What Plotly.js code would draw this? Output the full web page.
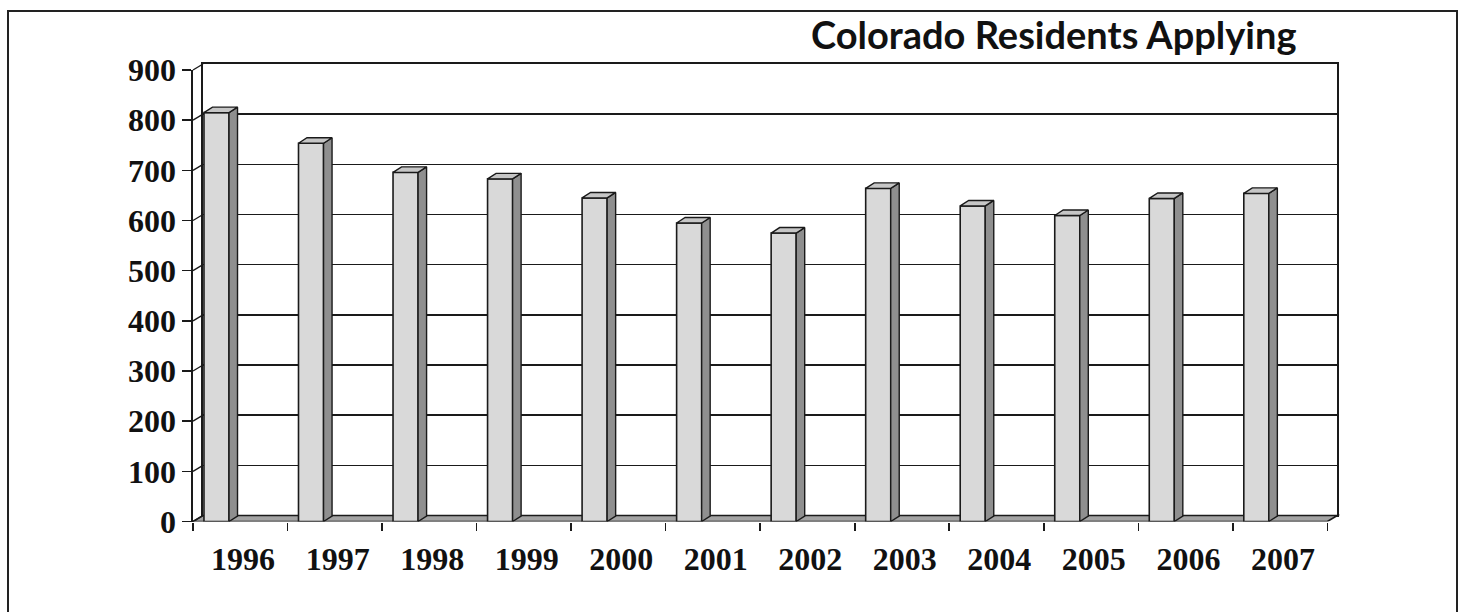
<!DOCTYPE html>
<html>
<head>
<meta charset="utf-8">
<script src="https://cdn.plot.ly/plotly-3.0.1.min.js"></script>
<style>html,body{margin:0;padding:0;background:#fff}</style>
</head>
<body>
<div id="chart" style="width:1464px;height:612px"></div>
<script>
// ---- data ----
const years = ['1996','1997','1998','1999','2000','2001','2002','2003','2004','2005','2006','2007'];
const applicants = [815, 754, 696, 683, 645, 595, 575, 664, 629, 610, 644, 654];
const yTickVals = [0,100,200,300,400,500,600,700,800,900];
const chartTitle = 'Colorado Residents Applying';

// ---- geometry (pixels) ----
const W = 1464, H = 612;
const fx = p => p / W;
const fy = p => 1 - p / H;
const catPx = 94.53;               // pixel width of one category
const frontLeft = 193, frontZero = 521.5, frontTop = 70;
const wallDx = 10, wallDy = 6;     // back wall offset in px
const barDx = 8.5, barDy = 5.5;    // bar depth in px
const xMax = 11.65;
const frontRight = frontLeft + (xMax + 0.5) * catPx;
const pxPerVal = (frontZero - frontTop) / 900;

const dxw = wallDx / catPx, dyw = wallDy / pxPerVal;
const dxb = barDx / catPx, dyb = barDy / pxPerVal;
const barOffset = -0.384, barWidth = 0.265;

const idx = years.map((_, i) => i);
const traces = [];

// invisible anchor trace for the back-wall subplot
traces.push({x:[0,1], y:[0,0], xaxis:'x', yaxis:'y', mode:'lines',
  line:{width:0, color:'rgba(0,0,0,0)'}, hoverinfo:'skip', showlegend:false});

// front faces of the columns
traces.push({type:'bar', x: idx, y: applicants, xaxis:'x2', yaxis:'y2',
  offset: barOffset, width: barWidth,
  marker:{color:'#d9d9d9', line:{color:'#1a1a1a', width:1.6}},
  hoverinfo:'skip', showlegend:false});

// side and top faces
applicants.forEach((v, i) => {
  const l = i + barOffset, r = l + barWidth;
  traces.push({x:[r, r+dxb, r+dxb, r, r], y:[0, dyb, v+dyb, v, 0],
    xaxis:'x2', yaxis:'y2', mode:'lines', fill:'toself', fillcolor:'#8f8f8f',
    line:{color:'#1a1a1a', width:1.4}, hoverinfo:'skip', showlegend:false});
  traces.push({x:[l, l+dxb, r+dxb, r, l], y:[v, v+dyb, v+dyb, v, v],
    xaxis:'x2', yaxis:'y2', mode:'lines', fill:'toself', fillcolor:'#c6c6c6',
    line:{color:'#1a1a1a', width:1.4}, hoverinfo:'skip', showlegend:false});
});

const shapes = [];
// floor of the 3D box
shapes.push({type:'path', xref:'x2', yref:'y2', layer:'below',
  path:`M -0.5 0 L 11.5 0 L ${11.5+dxw} ${dyw} L ${-0.5+dxw} ${dyw} Z`,
  fillcolor:'#a3a3a3', line:{color:'#1a1a1a', width:1.6}});
// side-wall connectors at each tick
yTickVals.forEach(v => {
  const y0 = frontZero - v * pxPerVal;
  shapes.push({type:'line', xref:'paper', yref:'paper',
    x0: fx(frontLeft), y0: fy(y0), x1: fx(frontLeft + wallDx), y1: fy(y0 - wallDy),
    line:{color:'#1a1a1a', width:1.4}});
});
// outer frame
shapes.push({type:'rect', xref:'paper', yref:'paper',
  x0: fx(8), y0: -0.05, x1: fx(1457), y1: fy(11),
  line:{color:'#222', width:2}, fillcolor:'rgba(0,0,0,0)'});

const tickFont = {family:'Liberation Serif, Times New Roman, serif', size:32, color:'#111', weight:'bold'};

const layout = {
  width: W, height: H,
  margin:{l:0, r:0, t:0, b:0},
  paper_bgcolor:'#ffffff', plot_bgcolor:'rgba(0,0,0,0)',
  showlegend:false,
  // back wall
  xaxis:{domain:[fx(frontLeft + wallDx), fx(frontLeft + wallDx + 12*catPx)], range:[0,1],
    showgrid:false, zeroline:false, showticklabels:false, ticks:'',
    showline:true, mirror:true, linecolor:'#1a1a1a', linewidth:1.6, fixedrange:true},
  yaxis:{domain:[fy(frontZero - wallDy), fy(frontTop - wallDy)], range:[0,900],
    tickvals:yTickVals, showgrid:true, gridcolor:'#1a1a1a', gridwidth:1.4,
    zeroline:false, showticklabels:false, ticks:'',
    showline:true, mirror:true, linecolor:'#1a1a1a', linewidth:1.6, fixedrange:true},
  // front
  xaxis2:{domain:[fx(frontLeft), fx(frontRight)], range:[-0.5, xMax], anchor:'y2',
    tickvals: idx.map(i => i - 0.5).concat([11.5]), ticks:'outside', ticklen:8, tickwidth:1.6,
    tickcolor:'#1a1a1a', showticklabels:false, showgrid:false, zeroline:false,
    showline:false, fixedrange:true},
  yaxis2:{domain:[fy(frontZero), fy(frontTop)], range:[0,900], anchor:'x2',
    tickvals:yTickVals, ticks:'outside', ticklen:9, tickwidth:1.6, tickcolor:'#1a1a1a',
    tickfont:tickFont, showgrid:false, zeroline:false,
    showline:true, linecolor:'#1a1a1a', linewidth:1.6, fixedrange:true},
  // year labels
  xaxis3:{overlaying:'x2', anchor:'y2', range:[-0.5, xMax],
    tickvals: idx.map(i => i + 0.03), ticktext: years, ticks:'',
    ticklabelstandoff: 15, tickfont: tickFont,
    showgrid:false, zeroline:false, showline:false, fixedrange:true},
  shapes: shapes,
  annotations:[{text: chartTitle, xref:'paper', yref:'paper',
    x: fx(1298), y: fy(34), xanchor:'right', yanchor:'middle', showarrow:false,
    font:{family:'Lato, Open Sans, sans-serif', size:38, color:'#111', weight:'bold'}}]
};

// an invisible trace so xaxis3 is realised
traces.push({x:[0], y:[0], xaxis:'x3', yaxis:'y2', mode:'markers',
  marker:{size:1, color:'rgba(0,0,0,0)'}, hoverinfo:'skip', showlegend:false});

Plotly.newPlot('chart', traces, layout, {staticPlot:true, displayModeBar:false});
</script>
</body>
</html>
